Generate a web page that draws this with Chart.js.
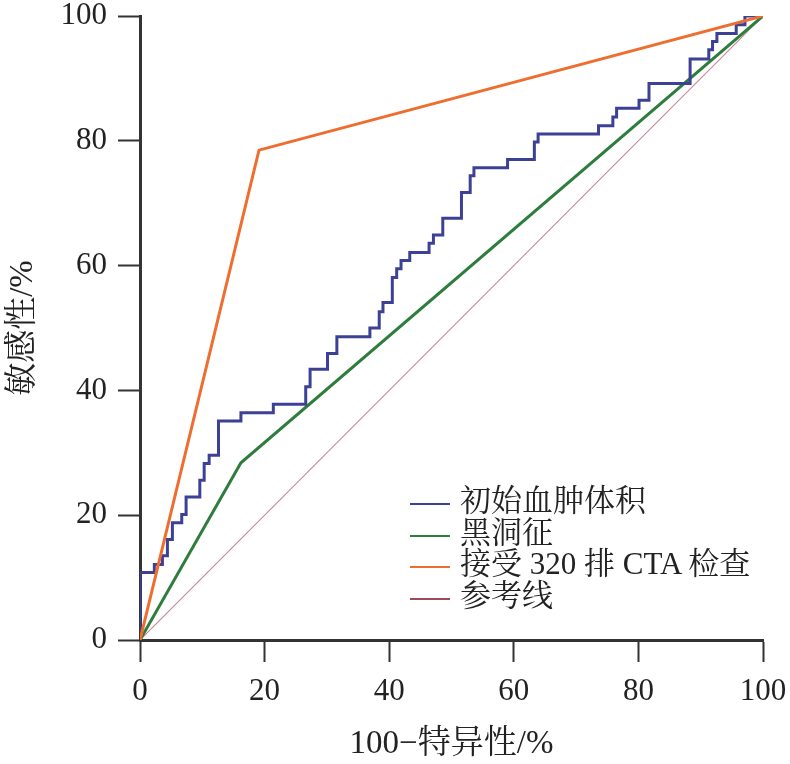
<!DOCTYPE html>
<html>
<head>
<meta charset="utf-8">
<script src="https://cdn.jsdelivr.net/npm/chart.js@4/dist/chart.umd.min.js"></script>
<style>
  body { margin: 0; background: #fff; }
  #wrap { position: relative; width: 790px; height: 764px; }
  #legend { position: absolute; left: 410px; top: 485px; font-family: "Liberation Serif", "Noto Serif CJK SC", "Noto Sans CJK SC", serif; font-size: 31px; color: #222; }
  #legend div { height: 31.7px; line-height: 31.7px; white-space: nowrap; }
  #legend span.sw { display: inline-block; width: 40px; height: 0; border-top: 2px solid; vertical-align: middle; margin-right: 10px; }
</style>
</head>
<body>
<div id="wrap">
  <canvas id="roc" width="790" height="764"></canvas>
  <div id="legend"></div>
</div>
<script>
// ROC curves, x = 100 - specificity, y = sensitivity (%)
const seriesNames = ['初始血肿体积', '黑洞征', '接受 320 排 CTA 检查', '参考线'];
const seriesColors = ['#3d4196', '#2f7d3d', '#ee6e2f', '#9c4a55'];

// step curve: x where the curve jumps, y the new level
const volumeX = [0, 0, 2.3, 3.6, 4.4, 5.2, 6.7, 7.4, 9.6, 10.3, 11.1, 12.6, 16.2, 21.4, 26.6, 27.3,
  30.1, 31.6, 36.9, 38.4, 39.0, 40.5, 41.2, 41.9, 43.3, 46.4, 47.1, 48.6, 51.6, 53.0, 53.6,
  59.0, 63.3, 63.9, 73.6, 75.9, 76.5, 80.1, 81.7, 88.3, 91.3, 91.9, 92.6, 95.7, 97.1, 100];
const volumeY = [0, 10.8, 12.1, 13.5, 16.1, 18.8, 20.1, 22.9, 25.6, 28.3, 29.6, 35.1, 36.4, 37.8, 40.6, 43.4,
  45.9, 48.6, 50.0, 52.6, 54.1, 58.1, 59.5, 60.8, 62.1, 63.6, 64.9, 67.6, 71.7, 74.4, 75.7,
  77.0, 79.8, 81.1, 82.4, 83.8, 85.2, 86.5, 89.2, 93.1, 94.6, 95.9, 97.2, 98.6, 100, 100];

const blackHoleX = [0, 16.2, 100];
const blackHoleY = [0, 28.4, 100];

const ctaX = [0, 19.1, 100];
const ctaY = [0, 78.5, 100];

const refX = [0, 100];
const refY = [0, 100];

const xTicks = [0, 20, 40, 60, 80, 100];
const yTicks = [0, 20, 40, 60, 80, 100];

const toPoints = (xs, ys) => xs.map((x, i) => ({ x: x, y: ys[i] }));

const FONT = '"Liberation Serif", "Noto Serif CJK SC", "Noto Sans CJK SC", serif';

const rocData = {
    datasets: [{
        label: seriesNames[0],
        data: toPoints(volumeX, volumeY),
        borderColor: seriesColors[0],
        borderWidth: 3,
        stepped: 'before',
        order: 1
    },
    {
        label: seriesNames[1],
        data: toPoints(blackHoleX, blackHoleY),
        borderColor: seriesColors[1],
        borderWidth: 3,
        order: 2
    },
    {
        label: seriesNames[2],
        data: toPoints(ctaX, ctaY),
        borderColor: seriesColors[2],
        borderWidth: 3,
        order: 0
    },
    {
        label: seriesNames[3],
        data: toPoints(refX, refY),
        borderColor: '#c7899a',
        borderWidth: 1.1,
        order: 3
    }
    ]
}

const axisStyle = (title, ticks) => ({
    type: 'linear',
    min: 0,
    max: 100,
    afterBuildTicks: (scale) => { scale.ticks = ticks.map(v => ({ value: v })); },
    ticks: {
        color: '#222',
        padding: 11,
        font: { family: FONT, size: 31 }
    },
    grid: {
        drawOnChartArea: false,
        drawTicks: true,
        tickLength: 22,
        tickWidth: 2,
        tickColor: '#333'
    },
    border: { color: '#333', width: 3 },
    title: {
        display: true,
        text: title,
        color: '#222',
        padding: { top: 4, bottom: 0 },
        font: { family: FONT, size: 33 }
    }
});

// fixed axis sizes, and no extra room for overhanging end labels
const xAxis = axisStyle('100−特异性/%', xTicks);
xAxis.afterFit = (scale) => { scale.height = 124; scale.paddingLeft = 0; scale.paddingRight = 0; };
const yAxis = axisStyle('敏感性/%', yTicks);
yAxis.afterFit = (scale) => { scale.width = 140; scale.paddingTop = 0; scale.paddingBottom = 0; };

const chart = new Chart(document.getElementById('roc').getContext('2d'), {
    type: 'line',
    data: rocData,
    options: {
        responsive: false,
        animation: false,
        devicePixelRatio: 1,
        elements: { point: { radius: 0 }, line: { tension: 0, fill: false } },
        layout: { padding: { top: 16, right: 27, left: 0, bottom: 0 } },
        plugins: {
            legend: { display: false },
            tooltip: { enabled: false }
        },
        scales: { x: xAxis, y: yAxis }
    }
});

// legend built from the chart's datasets
const legendEl = document.getElementById('legend');
chart.data.datasets.forEach((ds, i) => {
    const row = document.createElement('div');
    const sw = document.createElement('span');
    sw.className = 'sw';
    sw.style.borderColor = seriesColors[i];
    row.appendChild(sw);
    row.appendChild(document.createTextNode(ds.label));
    legendEl.appendChild(row);
});
</script>
</body>
</html>
